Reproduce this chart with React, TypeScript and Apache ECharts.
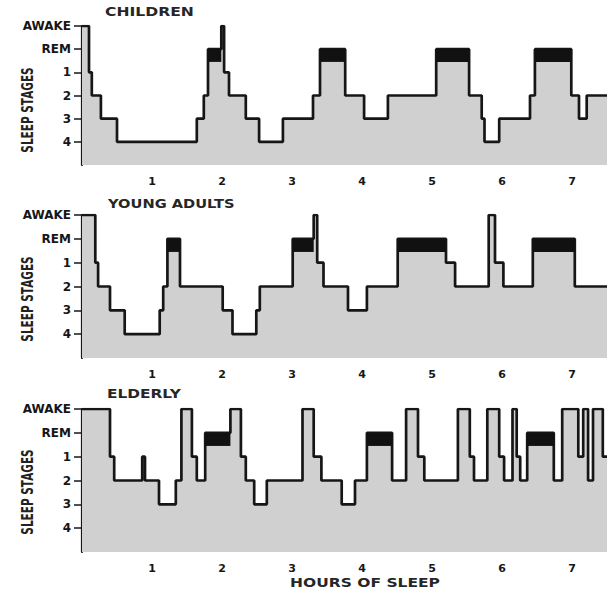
import React, { useEffect, useRef } from "react";
import * as echarts from "echarts";

const HOURS_MAX = 7.5;
const X_TICKS = [1, 2, 3, 4, 5, 6, 7];
const Y_TICKS = [0, 1, 2, 3, 4, 5];
const Y_LABELS = ["4", "3", "2", "1", "REM", "AWAKE"];
const STAGE_LEVEL: Record<string, number> = { W: 5, R: 4, "1": 3, "2": 2, "3": 1, "4": 0 };
const REM_TOP = 4;
const REM_BOTTOM = 3.45;

const childrenStart = [0, 0.1, 0.14, 0.27, 0.5, 1.64, 1.74, 1.8, 1.99, 2.03, 2.1, 2.34, 2.53, 2.87, 3.3, 3.4, 3.76, 4.03, 4.37, 5.06, 5.53, 5.71, 5.75, 5.96, 6.4, 6.47, 6.99, 7.1, 7.21];
const childrenStage = ["W", "1", "2", "3", "4", "3", "2", "R", "W", "1", "2", "3", "4", "3", "2", "R", "2", "3", "2", "R", "2", "3", "4", "3", "2", "R", "2", "3", "2"];

const youngStart = [0, 0.19, 0.23, 0.4, 0.61, 1.11, 1.16, 1.22, 1.4, 2.01, 2.15, 2.49, 2.54, 3.01, 3.31, 3.36, 3.45, 3.8, 4.07, 4.51, 5.2, 5.33, 5.81, 5.9, 6.02, 6.44, 7.04];
const youngStage = ["W", "1", "2", "3", "4", "3", "2", "R", "2", "3", "4", "3", "2", "R", "W", "1", "2", "3", "2", "R", "1", "2", "W", "1", "2", "R", "2"];

const elderlyStart = [0, 0.4, 0.46, 0.86, 0.9, 1.1, 1.34, 1.42, 1.57, 1.64, 1.76, 2.12, 2.27, 2.34, 2.46, 2.64, 3.15, 3.31, 3.42, 3.71, 3.9, 4.07, 4.43, 4.63, 4.8, 4.89, 5.37, 5.54, 5.6, 5.79, 5.96, 6.03, 6.15, 6.21, 6.26, 6.36, 6.74, 6.86, 7.09, 7.16, 7.23, 7.3, 7.44];
const elderlyStage = ["W", "1", "2", "1", "2", "3", "2", "W", "1", "2", "R", "W", "1", "2", "3", "2", "W", "1", "2", "3", "2", "R", "2", "W", "1", "2", "W", "1", "2", "W", "1", "2", "W", "1", "2", "R", "2", "W", "1", "W", "2", "W", "1"];

const PANEL_TITLES = ["CHILDREN", "YOUNG ADULTS", "ELDERLY"];
const PANELS = [
  { start: childrenStart, stage: childrenStage },
  { start: youngStart, stage: youngStage },
  { start: elderlyStart, stage: elderlyStage },
];

const GRIDS = [
  { left: 82, top: 26, width: 525, height: 139 },
  { left: 82, top: 215, width: 525, height: 143 },
  { left: 82, top: 409, width: 525, height: 143 },
];

const FONT = "DejaVu Sans";
const INK = "#161616";

function stepData(start: number[], stage: string[]) {
  const pts = start.map((t, i) => [t, STAGE_LEVEL[stage[i]]]);
  pts.push([HOURS_MAX, STAGE_LEVEL[stage[stage.length - 1]]]);
  return pts;
}

function remData(start: number[], stage: string[]) {
  const out: number[][] = [];
  stage.forEach((s, i) => {
    if (s === "R") out.push([start[i], i + 1 < start.length ? start[i + 1] : HOURS_MAX, REM_TOP]);
  });
  return out;
}

export default function App() {
  const ref = useRef<HTMLDivElement>(null);
  useEffect(() => {
    if (!ref.current) return;
    const chart = echarts.init(ref.current, null, { renderer: "svg" });

    const xAxis = GRIDS.map((_, i) => ({
      type: "value",
      gridIndex: i,
      min: 0,
      max: HOURS_MAX,
      splitLine: { show: false },
      axisLine: { show: true, lineStyle: { color: INK, width: 2.2 } },
      axisTick: { show: true, customValues: X_TICKS, length: 5, lineStyle: { color: INK, width: 1.5 } },
      axisLabel: {
        customValues: X_TICKS,
        margin: 11,
        color: INK,
        fontFamily: FONT,
        fontSize: 11,
        fontWeight: "bold",
      },
    }));

    const yAxis = GRIDS.map((_, i) => ({
      type: "value",
      gridIndex: i,
      min: -1,
      max: 5,
      interval: 1,
      splitLine: { show: false },
      axisLine: { show: true, lineStyle: { color: INK, width: 2.2 } },
      axisTick: { show: true, customValues: Y_TICKS, length: 8, lineStyle: { color: INK, width: 1.5 } },
      axisLabel: {
        customValues: Y_TICKS,
        margin: 11,
        color: INK,
        fontFamily: FONT,
        fontSize: 12,
        fontWeight: "bold",
        formatter: (v: number) => Y_LABELS[v] ?? "",
      },
    }));

    const series: any[] = [];
    PANELS.forEach((p, i) => {
      series.push({
        type: "line",
        xAxisIndex: i,
        yAxisIndex: i,
        step: "end",
        symbol: "none",
        data: stepData(p.start, p.stage),
        lineStyle: { color: INK, width: 2.7 },
        areaStyle: { color: "#d0d0d0", opacity: 1, origin: "start" },
        z: 2,
      });
      series.push({
        type: "custom",
        xAxisIndex: i,
        yAxisIndex: i,
        encode: { x: [0, 1], y: 2 },
        data: remData(p.start, p.stage),
        renderItem: (_params: any, api: any) => {
          const p1 = api.coord([api.value(0), REM_TOP]);
          const p2 = api.coord([api.value(1), REM_BOTTOM]);
          return {
            type: "rect",
            shape: { x: p1[0], y: p1[1], width: p2[0] - p1[0], height: p2[1] - p1[1] },
            style: { fill: "#111111" },
          };
        },
        z: 3,
      });
    });

    const titleStyle = { fill: "#262626", fontFamily: FONT, fontSize: 12, fontWeight: "bold" };
    const graphic: any[] = [
      { type: "text", x: 105, y: 12, scaleX: 1.3, style: { ...titleStyle, text: PANEL_TITLES[0], textVerticalAlign: "middle" } },
      { type: "text", x: 108, y: 204, scaleX: 1.22, style: { ...titleStyle, text: PANEL_TITLES[1], textVerticalAlign: "middle" } },
      { type: "text", x: 107, y: 394, scaleX: 1.28, style: { ...titleStyle, text: PANEL_TITLES[2], textVerticalAlign: "middle" } },
      { type: "text", x: 290, y: 583, scaleX: 1.24, style: { ...titleStyle, fontSize: 12.5, text: "HOURS OF SLEEP", textVerticalAlign: "middle" } },
    ];
    [110, 299, 492].forEach((cy) => {
      graphic.push({
        type: "text",
        x: 28,
        y: cy,
        rotation: Math.PI / 2,
        scaleX: 0.7,
        style: { text: "SLEEP STAGES", fill: "#222", fontFamily: FONT, fontSize: 15, fontWeight: "bold", textAlign: "center", textVerticalAlign: "middle" },
      });
    });

    chart.setOption({
      animation: false,
      backgroundColor: "#ffffff",
      grid: GRIDS.map((g) => ({ ...g, containLabel: false })),
      xAxis,
      yAxis,
      series,
      graphic,
    });
    return () => chart.dispose();
  }, []);

  return <div ref={ref} style={{ position: "fixed", left: 0, top: 0, width: 607, height: 591 }} />;
}
